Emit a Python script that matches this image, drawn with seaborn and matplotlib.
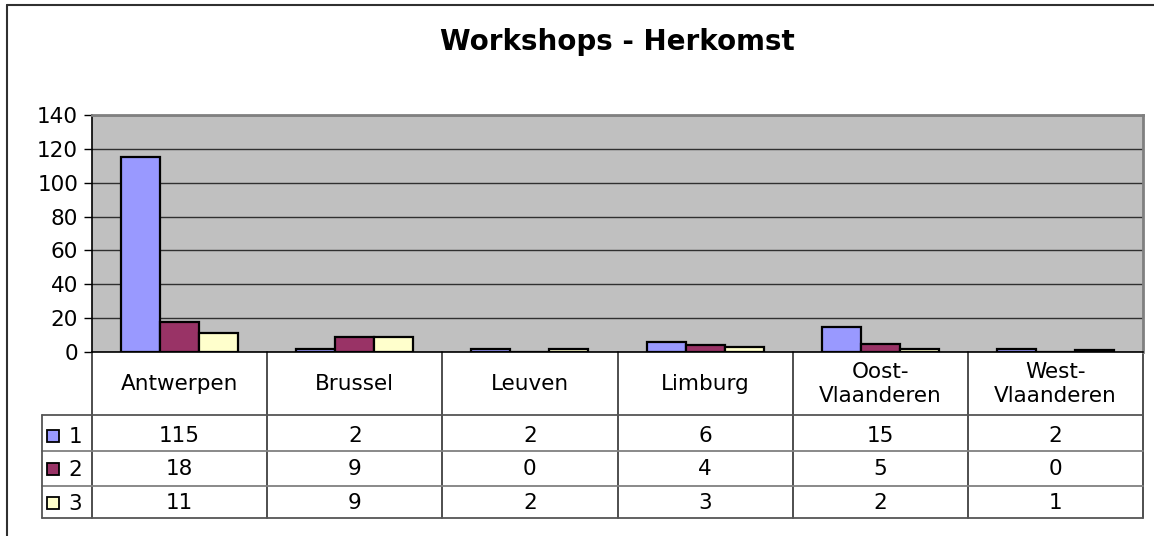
import matplotlib
matplotlib.use("Agg")
import matplotlib.pyplot as plt
import matplotlib.transforms as mtrans
from matplotlib.patches import Rectangle
from matplotlib.lines import Line2D
import seaborn as sns
import pandas as pd

# ---- data ----
categories = ["Antwerpen", "Brussel", "Leuven", "Limburg", "Oost-\nVlaanderen", "West-\nVlaanderen"]
series_names = ["1", "2", "3"]
series1 = [115, 2, 2, 6, 15, 2]
series2 = [18, 9, 0, 4, 5, 0]
series3 = [11, 9, 2, 3, 2, 1]
colors = ["#9999FF", "#993366", "#FFFFCC"]
yticks = [0, 20, 40, 60, 80, 100, 120, 140]
title = "Workshops - Herkomst"

series_values = [series1, series2, series3]
rows = []
for name, vals in zip(series_names, series_values):
    for c, v in zip(categories, vals):
        rows.append({"Regio": c, "Aantal": v, "Reeks": name})
df = pd.DataFrame(rows)

sns.set_style("white")
plt.rcParams["font.family"] = ["DejaVu Sans"]
plt.rcParams["text.color"] = "black"
plt.rcParams["ytick.color"] = "black"
plt.rcParams["ytick.labelcolor"] = "black"

W, H = 1154, 536
fig = plt.figure(figsize=(W / 100, H / 100), dpi=100)
fig.patch.set_facecolor("white")

def fx(px):
    return px / W

def fy(py):
    return 1 - py / H

left, right, top, bottom = 92, 1143, 115, 352
ax = fig.add_axes([fx(left), fy(bottom), fx(right - left), (bottom - top) / H])
ax.set_facecolor("#C0C0C0")

sns.barplot(data=df, x="Regio", y="Aantal", hue="Reeks", palette=colors,
            width=0.667, edgecolor="black", linewidth=1.6, ax=ax,
            legend=False, saturation=1, order=categories, hue_order=series_names)

ax.set_xlim(-0.5, len(categories) - 0.5)
ax.set_ylim(0, 140)
ax.set_yticks(yticks)
ax.set_yticklabels([str(t) for t in yticks])
ax.yaxis.grid(True, color="#303030", linewidth=1.0)
ax.set_axisbelow(True)
ax.set_xticks([])
ax.set_xlabel("")
ax.set_ylabel("")
ax.tick_params(axis="y", left=True, length=6, width=1, color="black",
               labelcolor="black", labelsize=15.5, pad=4, direction="out")
for s in ["left", "bottom"]:
    ax.spines[s].set_color("black")
    ax.spines[s].set_linewidth(1.2)
for s in ["top", "right"]:
    ax.spines[s].set_color("#808080")
    ax.spines[s].set_linewidth(2)

# title
fig.text(fx((left + right) / 2), fy(42), title, ha="center", va="center",
         fontsize=20, fontweight="bold", color="black")

# outer border (top and left visible)
fig.add_artist(Line2D([fx(7), fx(1160)], [fy(5), fy(5)], color="#303030", lw=1.5,
                      transform=fig.transFigure))
fig.add_artist(Line2D([fx(7), fx(7)], [fy(5), fy(540)], color="#303030", lw=1.5,
                      transform=fig.transFigure))

# data table
bt = mtrans.blended_transform_factory(ax.transData, fig.transFigure)
row_lines = [415, 451, 486, 518]
row_centers = [436, 469, 503]
n = len(categories)

# vertical separators
for i in range(n + 1):
    xv = i - 0.5
    ax.add_line(Line2D([xv, xv], [fy(bottom), fy(518)], color="#404040", lw=1.3,
                       transform=bt, clip_on=False))
# horizontal lines
for j, yl in enumerate(row_lines):
    col = "#555555" if j in (0, 3) else "#808080"
    fig.add_artist(Line2D([fx(42), fx(right)], [fy(yl), fy(yl)], color=col, lw=1.3,
                          transform=fig.transFigure))
fig.add_artist(Line2D([fx(42), fx(42)], [fy(415), fy(518)], color="#555555", lw=1.3,
                      transform=fig.transFigure))

# category labels
for i, c in enumerate(categories):
    ax.text(i, fy(384), c, transform=bt, ha="center", va="center", fontsize=15.5,
            linespacing=1.25, clip_on=False, color="black")

# values
for vals, yc in zip(series_values, row_centers):
    for i, v in enumerate(vals):
        ax.text(i, fy(yc), str(v), transform=bt, ha="center", va="center",
                fontsize=15.5, clip_on=False, color="black")

# legend keys
for name, colr, yc in zip(series_names, colors, row_centers):
    fig.add_artist(Rectangle((fx(47), fy(yc + 6)), fx(12), 12 / H, facecolor=colr,
                             edgecolor="black", lw=1.3, transform=fig.transFigure))
    fig.text(fx(75), fy(yc + 1), name, ha="center", va="center", fontsize=15.5,
             color="black")

fig.savefig("out.png", dpi=100, facecolor="white")
